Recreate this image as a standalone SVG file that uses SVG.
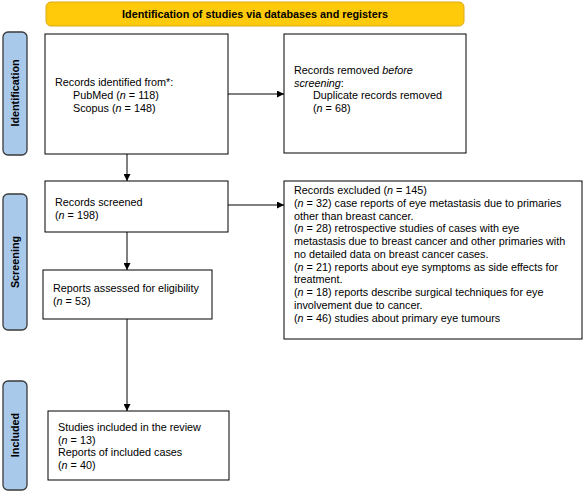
<svg xmlns="http://www.w3.org/2000/svg" width="584" height="493" viewBox="0 0 584 493">
<style>
text{font-family:"Liberation Sans",Arial,sans-serif;font-size:10.8px;fill:#000}
.b{font-weight:bold}
.box{fill:#fff;stroke:#000;stroke-width:1}
.side{fill:#a9c9ea;stroke:#3a3a3a;stroke-width:1.3}
.ln{stroke:#000;stroke-width:1;fill:none}
</style>
<defs>
<marker id="ah" viewBox="0 0 10 10" refX="10" refY="5" markerWidth="7" markerHeight="7" markerUnits="userSpaceOnUse" orient="auto"><path d="M0,0 L10,5 L0,10 z" fill="#000"/></marker>
</defs>
<rect width="584" height="493" fill="#fff"/>
<g id="title"><rect x="46" y="2" width="418" height="24" rx="5" fill="#ffca0a" stroke="#dca81a" stroke-width="1"/><text class="b" x="255" y="18" text-anchor="middle">Identification of studies via databases and registers</text></g>
<g id="side-identification"><rect class="side" x="3" y="32" width="24" height="123" rx="5"/><text class="b" transform="translate(19,93) rotate(-90)" text-anchor="middle">Identification</text></g>
<g id="side-screening"><rect class="side" x="3" y="194" width="24" height="136" rx="5"/><text class="b" transform="translate(19,262) rotate(-90)" text-anchor="middle">Screening</text></g>
<g id="side-included"><rect class="side" x="3" y="381" width="24" height="109" rx="5"/><text class="b" transform="translate(19,435) rotate(-90)" text-anchor="middle">Included</text></g>
<g id="identified"><rect class="box" x="45" y="34" width="183" height="120"/>
<text x="55" y="86">Records identified from*:</text>
<text x="73" y="99">PubMed (<tspan font-style="italic">n</tspan> = 118)</text>
<text x="73" y="112">Scopus (<tspan font-style="italic">n</tspan> = 148)</text></g>
<g id="removed"><rect class="box" x="284" y="34" width="182" height="119"/>
<text x="294" y="74">Records removed <tspan font-style="italic">before</tspan></text>
<text x="294" y="86.5"><tspan font-style="italic">screening</tspan>:</text>
<text x="313" y="99">Duplicate records removed</text>
<text x="313" y="111.5">(<tspan font-style="italic">n</tspan> = 68)</text></g>
<g id="screened"><rect class="box" x="45" y="181" width="183" height="51"/>
<text x="55" y="206">Records screened</text>
<text x="55" y="218.5">(<tspan font-style="italic">n</tspan> = 198)</text></g>
<g id="excluded"><rect class="box" x="284" y="181" width="298" height="158"/>
<text x="294" y="194">Records excluded (<tspan font-style="italic">n</tspan> = 145)</text>
<text x="294" y="206.75">(<tspan font-style="italic">n</tspan> = 32) case reports of eye metastasis due to primaries</text>
<text x="294" y="219.5">other than breast cancer.</text>
<text x="294" y="232.25">(<tspan font-style="italic">n</tspan> = 28) retrospective studies of cases with eye</text>
<text x="294" y="245">metastasis due to breast cancer and other primaries with</text>
<text x="294" y="257.75">no detailed data on breast cancer cases.</text>
<text x="294" y="270.5">(<tspan font-style="italic">n</tspan> = 21) reports about eye symptoms as side effects for</text>
<text x="294" y="283.25">treatment.</text>
<text x="294" y="296">(<tspan font-style="italic">n</tspan> = 18) reports describe surgical techniques for eye</text>
<text x="294" y="308.75">involvement due to cancer.</text>
<text x="294" y="321.5">(<tspan font-style="italic">n</tspan> = 46) studies about primary eye tumours</text></g>
<g id="assessed"><rect class="box" x="43" y="270" width="169" height="49"/>
<text x="53" y="292">Reports assessed for eligibility</text>
<text x="53" y="304.5">(<tspan font-style="italic">n</tspan> = 53)</text></g>
<g id="included"><rect class="box" x="48" y="411" width="181" height="69"/>
<text x="58" y="431">Studies included in the review</text>
<text x="58" y="443.5">(<tspan font-style="italic">n</tspan> = 13)</text>
<text x="58" y="456">Reports of included cases</text>
<text x="58" y="468.5">(<tspan font-style="italic">n</tspan> = 40)</text></g>
<g id="connectors">
<line class="ln" x1="228" y1="94" x2="284" y2="94" marker-end="url(#ah)"/>
<line class="ln" x1="127" y1="154" x2="127" y2="181" marker-end="url(#ah)"/>
<line class="ln" x1="228" y1="205" x2="284" y2="205" marker-end="url(#ah)"/>
<line class="ln" x1="127" y1="232" x2="127" y2="270" marker-end="url(#ah)"/>
<line class="ln" x1="127" y1="319" x2="127" y2="411" marker-end="url(#ah)"/>
</g>
</svg>
